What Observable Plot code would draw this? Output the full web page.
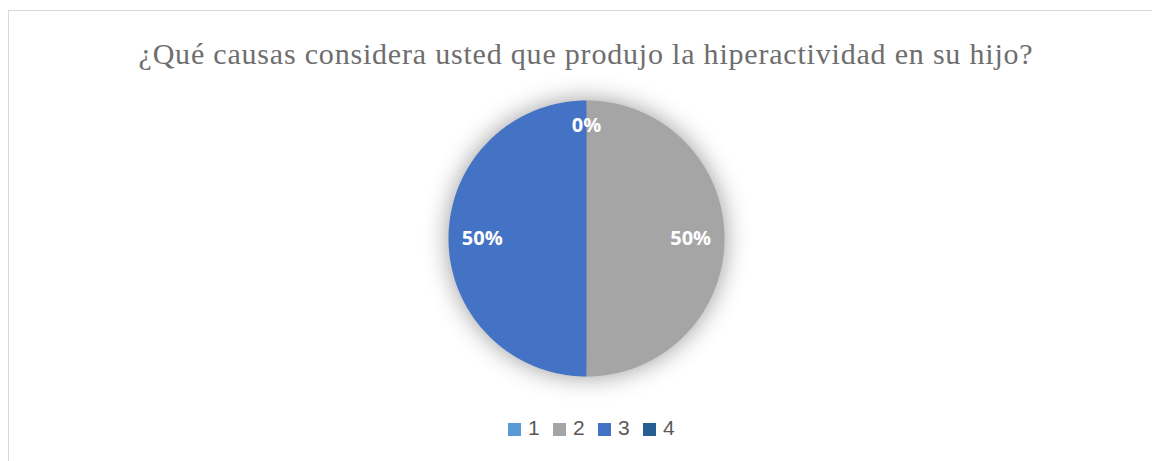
<!DOCTYPE html>
<html>
<head>
<meta charset="utf-8">
<script src="https://cdn.jsdelivr.net/npm/d3@7"></script>
<script src="https://cdn.jsdelivr.net/npm/@observablehq/plot@0.6"></script>
<style>
  html, body { margin: 0; padding: 0; background: #fff; }
  #wrap { position: relative; width: 1152px; height: 461px; overflow: hidden; }
  #frame { position: absolute; left: 8px; top: 10px; width: 1160px; height: 470px; border: 1px solid #d9d9d9; box-sizing: border-box; }
  #title { position: absolute; left: 0; width: 1172px; top: 39px; text-align: center; font-family: "Liberation Serif", serif; font-size: 30px; line-height: 30px; letter-spacing: 0.8px; color: #6e6e6e; white-space: nowrap; }
  #pie { position: absolute; }
  #legend { position: absolute; top: 0; left: 0; width: 1152px; height: 461px; font-family: "Liberation Sans", sans-serif; font-size: 21px; line-height: 21px; color: #595959; white-space: nowrap; }
  #legend span.item { position: absolute; top: 417px; }
  #legend span.sw { display: inline-block; width: 13px; height: 13px; margin-right: 7px; vertical-align: -1px; }
</style>
</head>
<body>
<div id="wrap">
  <div id="frame"></div>
  <div id="title"></div>
  <div id="pie"></div>
  <div id="legend"></div>
</div>
<script>
const title = "¿Qué causas considera usted que produjo la hiperactividad en su hijo?";
const categories = ["1", "2", "3", "4"];
const values = [0, 50, 50, 0];
const labels = ["0%", "50%", "50%", "0%"];
const colors = ["#5B9BD5", "#A5A5A5", "#4472C4", "#255E91"];

document.getElementById("title").textContent = title;

// pie geometry from d3.pie (angles) -> polygon outlines in unit coordinates
const arcs = d3.pie().sort(null).value(d => d.v)(categories.map((c, i) => ({c, v: values[i], l: labels[i]})));
const slicePts = [];
for (const a of arcs) {
  const span = a.endAngle - a.startAngle;
  const n = Math.max(2, Math.ceil(span / 0.01));
  slicePts.push({c: a.data.c, x: 0, y: 0});
  for (let k = 0; k <= n; k++) {
    const t = a.startAngle + span * k / n;
    slicePts.push({c: a.data.c, x: Math.sin(t), y: Math.cos(t)});
  }
  slicePts.push({c: a.data.c, x: 0, y: 0});
}
const labelPts = [];
const seen = new Set();
for (const a of arcs) {
  const m = (a.startAngle + a.endAngle) / 2;
  const key = Math.round(Math.sin(m) * 100) + "," + Math.round(Math.cos(m) * 100);
  if (seen.has(key)) continue;
  seen.add(key);
  const r = a.value === 0 ? 0.82 : 0.755;
  labelPts.push({x: r * Math.sin(m), y: r * Math.cos(m), l: a.data.l});
}

const R = 138, S = 360;
const ext = (S / 2) / R;
const cx = 586, cy = 238;
const pieDiv = document.getElementById("pie");
pieDiv.style.left = (cx - S / 2) + "px";
pieDiv.style.top = (cy - S / 2) + "px";

const chart = Plot.plot({
  width: S, height: S,
  margin: 0,
  x: {domain: [-ext, ext], axis: null},
  y: {domain: [-ext, ext], axis: null},
  color: {domain: categories, range: colors},
  style: {background: "transparent", overflow: "visible"},
  marks: [
    Plot.line(slicePts, {x: "x", y: "y", z: "c", fill: "c", stroke: "none", curve: "linear"}),
    Plot.text(labelPts, {x: "x", y: "y", text: "l", fill: "white", fontSize: 20, fontWeight: "bold", fontFamily: "'Open Sans', 'Liberation Sans', sans-serif"})
  ]
});
chart.querySelector("g[aria-label=line]").style.filter = "drop-shadow(0 0 12px rgba(0,0,0,0.4))";
pieDiv.appendChild(chart);

const leg = document.getElementById("legend");
categories.forEach((c, i) => {
  const item = document.createElement("span");
  item.className = "item";
  item.style.left = (508 + i * 45) + "px";
  const sw = document.createElement("span");
  sw.className = "sw";
  sw.style.background = colors[i];
  item.appendChild(sw);
  item.appendChild(document.createTextNode(c));
  leg.appendChild(item);
});
</script>
</body>
</html>
